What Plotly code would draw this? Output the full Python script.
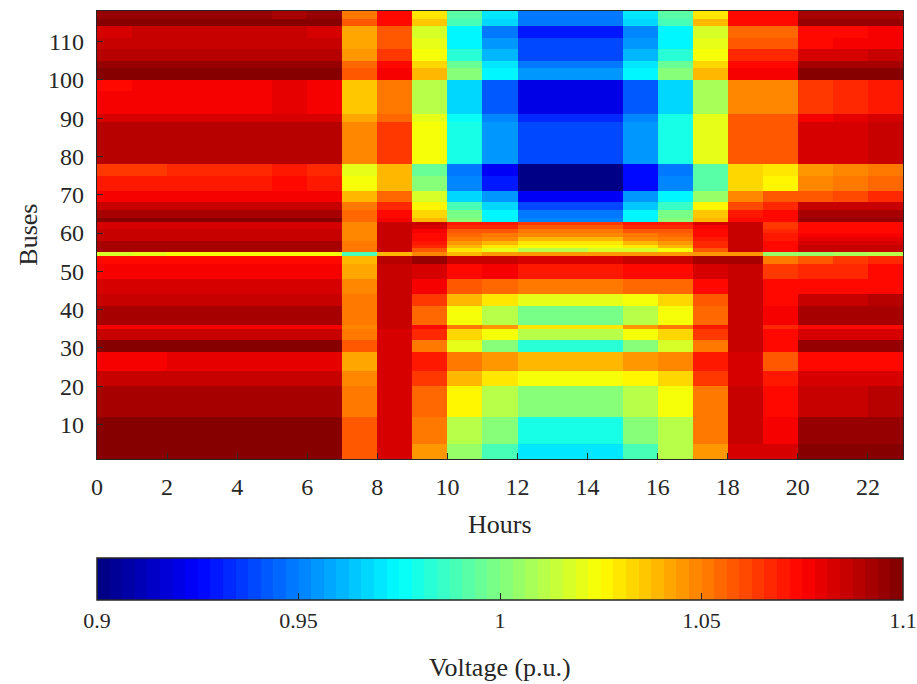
import plotly.graph_objects as go

# ---------------- data ----------------
hours = list(range(0, 24))          # cell edges 0..23 -> 23 hourly cells
buses = list(range(1, 119))         # cell edges 1..118 -> 117 bus rows
x_ticks = list(range(0, 23, 2))
y_ticks = list(range(10, 111, 10))
cbar_ticks = [0.9, 0.95, 1.0, 1.05, 1.1]
cbar_ticktext = ["0.9", "0.95", "1", "1.05", "1.1"]

# last bus row (inclusive) of each horizontal band, bottom to top
band_top_bus = [4, 11, 19, 23, 28, 31, 34, 35, 40, 43, 47, 51, 53, 54,
                55, 56, 57, 58, 59, 60, 61, 62, 63, 65, 67, 70, 74, 77,
                88, 90, 96, 99, 102, 104, 107, 110, 113, 115, 117]

# voltage (p.u.) of each band for hours 0..22
voltage_by_band = [
    [1.100,1.100,1.100,1.100,1.100,1.100,1.100,1.059,1.082,1.044,1.006,0.988,0.969,0.969,0.969,0.988,1.0095,1.044,1.082,1.082,1.097,1.097,1.097],
    [1.097,1.097,1.097,1.097,1.097,1.097,1.097,1.059,1.082,1.050,1.0125,1.000,0.981,0.981,0.981,1.000,1.0125,1.050,1.085,1.078,1.094,1.095,1.096],
    [1.092,1.092,1.092,1.092,1.092,1.092,1.092,1.050,1.082,1.056,1.028,1.0125,1.003,1.003,1.003,1.0125,1.025,1.053,1.085,1.072,1.085,1.087,1.089],
    [1.085,1.085,1.085,1.085,1.085,1.085,1.085,1.047,1.082,1.0625,1.040,1.031,1.022,1.022,1.022,1.028,1.034,1.0625,1.082,1.069,1.082,1.082,1.082],
    [1.078,1.078,1.081,1.081,1.081,1.081,1.081,1.043,1.082,1.069,1.050,1.044,1.0375,1.0375,1.0375,1.044,1.047,1.069,1.082,1.059,1.072,1.072,1.072],
    [1.097,1.097,1.097,1.097,1.097,1.097,1.097,1.059,1.082,1.053,1.019,1.000,0.984,0.984,0.984,1.000,1.016,1.050,1.085,1.075,1.094,1.094,1.094],
    [1.085,1.085,1.085,1.085,1.085,1.085,1.085,1.050,1.082,1.066,1.034,1.025,1.0125,1.0125,1.0125,1.022,1.034,1.0625,1.085,1.072,1.082,1.082,1.082],
    [1.078,1.078,1.078,1.078,1.078,1.078,1.078,1.047,1.085,1.072,1.050,1.044,1.031,1.031,1.031,1.044,1.050,1.069,1.085,1.066,1.075,1.075,1.075],
    [1.092,1.092,1.092,1.092,1.092,1.092,1.092,1.053,1.085,1.056,1.022,1.0095,0.997,0.997,0.997,1.0095,1.022,1.056,1.085,1.078,1.091,1.091,1.091],
    [1.085,1.085,1.085,1.085,1.085,1.085,1.085,1.050,1.085,1.0625,1.0375,1.031,1.019,1.019,1.019,1.022,1.034,1.059,1.085,1.072,1.085,1.087,1.089],
    [1.082,1.082,1.082,1.082,1.082,1.082,1.082,1.047,1.085,1.078,1.059,1.056,1.050,1.050,1.050,1.056,1.056,1.075,1.085,1.072,1.072,1.075,1.075],
    [1.078,1.078,1.078,1.078,1.078,1.078,1.078,1.043,1.085,1.083,1.075,1.076,1.069,1.069,1.069,1.072,1.075,1.082,1.085,1.0625,1.066,1.066,1.072],
    [1.074,1.074,1.074,1.074,1.074,1.074,1.074,1.0375,1.089,1.094,1.085,1.085,1.082,1.082,1.082,1.085,1.085,1.091,1.091,1.053,1.059,1.0625,1.066],
    [1.017,1.020,1.024,1.024,1.024,1.024,1.024,0.988,1.0375,1.047,1.040,1.044,1.044,1.044,1.044,1.044,1.044,1.044,1.044,1.006,1.006,1.007,1.0125],
    [1.091,1.091,1.091,1.091,1.091,1.091,1.091,1.050,1.085,1.059,1.031,1.019,1.0125,1.0125,1.016,1.016,1.025,1.059,1.087,1.072,1.085,1.085,1.085],
    [1.091,1.091,1.091,1.091,1.091,1.091,1.091,1.050,1.085,1.066,1.0375,1.031,1.022,1.022,1.022,1.031,1.0375,1.066,1.087,1.072,1.085,1.085,1.085],
    [1.091,1.091,1.091,1.091,1.091,1.091,1.091,1.050,1.085,1.069,1.044,1.0375,1.031,1.031,1.031,1.0375,1.044,1.066,1.087,1.072,1.082,1.082,1.082],
    [1.085,1.085,1.085,1.085,1.085,1.085,1.085,1.047,1.085,1.072,1.050,1.047,1.040,1.040,1.040,1.047,1.050,1.069,1.087,1.069,1.080,1.080,1.080],
    [1.085,1.085,1.085,1.085,1.085,1.085,1.085,1.047,1.085,1.075,1.056,1.053,1.047,1.047,1.047,1.053,1.056,1.072,1.087,1.069,1.078,1.078,1.078],
    [1.085,1.085,1.085,1.085,1.085,1.085,1.085,1.047,1.085,1.078,1.059,1.059,1.053,1.053,1.053,1.059,1.059,1.075,1.087,1.066,1.072,1.072,1.072],
    [1.082,1.082,1.082,1.082,1.082,1.082,1.082,1.047,1.085,1.082,1.066,1.066,1.059,1.059,1.059,1.066,1.066,1.078,1.087,1.0625,1.072,1.072,1.072],
    [1.082,1.082,1.082,1.082,1.082,1.082,1.082,1.047,1.085,1.085,1.069,1.069,1.0625,1.0625,1.0625,1.069,1.069,1.082,1.087,1.0625,1.072,1.072,1.072],
    [1.100,1.100,1.100,1.100,1.100,1.100,1.100,1.056,1.078,1.040,1.000,0.975,0.953,0.953,0.953,0.975,1.000,1.040,1.072,1.072,1.096,1.096,1.096],
    [1.091,1.091,1.091,1.091,1.091,1.091,1.091,1.056,1.072,1.034,0.997,0.972,0.947,0.947,0.947,0.972,0.997,1.036,1.069,1.072,1.092,1.092,1.092],
    [1.085,1.085,1.085,1.085,1.085,1.085,1.085,1.053,1.066,1.028,0.990,0.966,0.940,0.940,0.940,0.963,0.985,1.028,1.062,1.066,1.085,1.085,1.085],
    [1.078,1.078,1.078,1.078,1.078,1.078,1.078,1.0375,1.056,1.016,0.968,0.956,0.922,0.922,0.922,0.956,0.975,1.006,1.047,1.059,1.059,1.060,1.066],
    [1.069,1.069,1.069,1.069,1.069,1.072,1.069,1.024,1.040,1.000,0.953,0.931,0.903,0.903,0.903,0.928,0.953,0.991,1.034,1.028,1.047,1.050,1.056],
    [1.0625,1.0625,1.066,1.066,1.066,1.069,1.066,1.019,1.0375,0.994,0.947,0.922,0.900,0.900,0.900,0.925,0.947,0.991,1.034,1.031,1.044,1.047,1.053],
    [1.088,1.088,1.088,1.089,1.089,1.089,1.088,1.047,1.0625,1.022,0.981,0.956,0.9375,0.9375,0.9375,0.956,0.981,1.019,1.059,1.059,1.082,1.084,1.085],
    [1.082,1.082,1.082,1.082,1.082,1.082,1.082,1.042,1.056,1.019,0.978,0.953,0.934,0.934,0.934,0.953,0.981,1.019,1.059,1.059,1.078,1.080,1.082],
    [1.077,1.078,1.078,1.078,1.078,1.081,1.077,1.035,1.050,1.0095,0.966,0.941,0.921,0.921,0.921,0.941,0.966,1.0064,1.047,1.047,1.0625,1.066,1.070],
    [1.075,1.078,1.078,1.078,1.078,1.081,1.078,1.035,1.050,1.0095,0.966,0.9407,0.919,0.919,0.919,0.9407,0.966,1.0064,1.047,1.047,1.0625,1.066,1.069],
    [1.097,1.097,1.097,1.097,1.097,1.097,1.097,1.058,1.078,1.0375,1.000,0.975,0.956,0.956,0.956,0.975,1.000,1.0375,1.078,1.078,1.099,1.099,1.099],
    [1.094,1.094,1.094,1.094,1.094,1.094,1.094,1.056,1.072,1.034,0.994,0.969,0.947,0.947,0.947,0.969,0.994,1.034,1.075,1.075,1.092,1.092,1.092],
    [1.088,1.088,1.089,1.089,1.089,1.089,1.088,1.046,1.0625,1.025,0.984,0.960,0.940,0.940,0.940,0.960,0.984,1.022,1.066,1.066,1.082,1.083,1.085],
    [1.085,1.085,1.086,1.086,1.086,1.087,1.085,1.042,1.059,1.019,0.975,0.956,0.9375,0.9375,0.9375,0.956,0.975,1.019,1.059,1.059,1.072,1.078,1.078],
    [1.082,1.085,1.085,1.085,1.085,1.085,1.082,1.042,1.058,1.016,0.975,0.950,0.931,0.931,0.931,0.953,0.975,1.016,1.056,1.056,1.072,1.075,1.078],
    [1.097,1.097,1.097,1.097,1.097,1.097,1.097,1.058,1.075,1.036,0.988,0.968,0.950,0.950,0.950,0.968,0.990,1.0375,1.075,1.075,1.095,1.095,1.095],
    [1.094,1.094,1.094,1.094,1.094,1.092,1.094,1.050,1.072,1.031,0.991,0.969,0.950,0.950,0.950,0.969,0.991,1.031,1.072,1.072,1.092,1.092,1.092],
]

# ---------------- build the bus x hour grid ----------------
n_rows = len(buses) - 1
z = []
band = 0
for row_bus in range(1, n_rows + 1):
    while row_bus > band_top_bus[band]:
        band += 1
    z.append(voltage_by_band[band])

# MATLAB-like jet(64) as a stepped colorscale
def jet(t):
    r = min(max(1.5 - abs(4 * t - 3), 0), 1)
    g = min(max(1.5 - abs(4 * t - 2), 0), 1)
    b = min(max(1.5 - abs(4 * t - 1), 0), 1)
    return "rgb(%d,%d,%d)" % (round(r * 255), round(g * 255), round(b * 255))

N = 64
colorscale = []
for i in range(N):
    c = jet((i + 0.5) / N)
    colorscale.append([i / N, c])
    colorscale.append([(i + 1) / N, c])

FONT = "Liberation Serif"
INK = "#262626"

fig = go.Figure(go.Heatmap(
    x=hours, y=buses, z=z,
    zmin=0.9, zmax=1.1, zsmooth=False,
    colorscale=colorscale,
    colorbar=dict(
        orientation="h", x=0.5, xanchor="center",
        y=-0.221, yanchor="top", len=1.0, lenmode="fraction",
        thickness=42, thicknessmode="pixels", xpad=0, ypad=0,
        outlinewidth=1.5, outlinecolor=INK,
        tickvals=cbar_ticks, ticktext=cbar_ticktext,
        ticks="inside", ticklen=7, tickcolor=INK, tickwidth=1,
        tickfont=dict(family=FONT, size=22, color=INK),
    ),
))

fig.update_layout(
    width=917, height=684,
    margin=dict(l=97, r=14, t=11, b=225, autoexpand=False),
    paper_bgcolor="white", plot_bgcolor="white",
    font=dict(family=FONT, color=INK),
    xaxis=dict(
        range=[0, 23], tickvals=x_ticks, ticks="inside", ticklen=6,
        tickcolor=INK, showline=True, mirror=True, linecolor=INK, linewidth=1.2,
        showgrid=False, zeroline=False, automargin=False, ticklabelstandoff=6,
        tickfont=dict(family=FONT, size=24, color=INK),
    ),
    yaxis=dict(
        range=[1, 118], tickvals=y_ticks, ticks="inside", ticklen=6,
        tickcolor=INK, showline=True, mirror=True, linecolor=INK, linewidth=1.2,
        showgrid=False, zeroline=False, automargin=False, ticklabelstandoff=7,
        tickfont=dict(family=FONT, size=24, color=INK),
    ),
    annotations=[
        dict(text="Hours", xref="paper", yref="paper", x=0.5, y=-0.147,
             xanchor="center", yanchor="middle", showarrow=False,
             font=dict(family=FONT, size=26, color=INK)),
        dict(text="Buses", xref="paper", yref="paper", x=-0.086, y=0.5,
             xanchor="center", yanchor="middle", showarrow=False, textangle=-90,
             font=dict(family=FONT, size=26, color=INK)),
        dict(text="Voltage (p.u.)", xref="paper", yref="paper",
             x=0.5, y=-0.465, xanchor="center", yanchor="middle", showarrow=False,
             font=dict(family=FONT, size=26, color=INK)),
    ],
)

fig.write_html("out.html",
               config={"displayModeBar": False},
               post_script="document.body.style.margin='0px';"
                           "document.body.style.overflow='hidden';")
